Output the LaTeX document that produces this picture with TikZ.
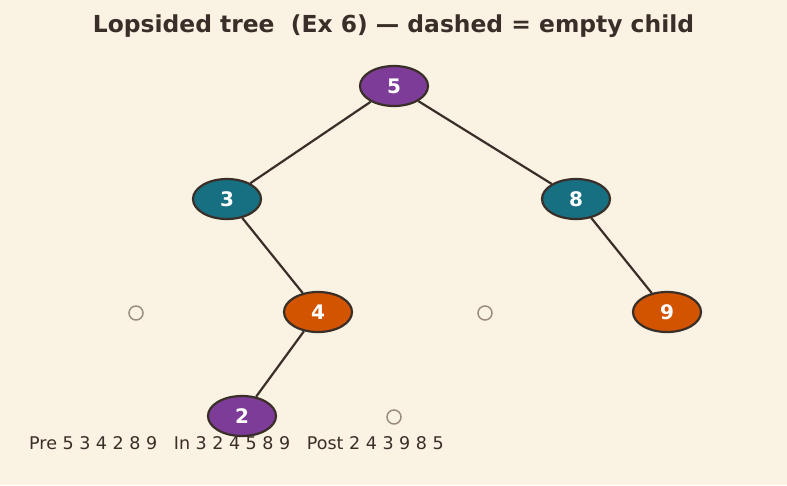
\documentclass[tikz,border=0pt]{standalone}
\usepackage{fontspec}
\setmainfont{DejaVu Sans}
\usetikzlibrary{shapes.geometric}
\definecolor{paper}{HTML}{FAF2E3}
\definecolor{ink}{HTML}{3A2F28}
\definecolor{plum}{HTML}{7D3C98}
\definecolor{teal}{HTML}{176F82}
\definecolor{rust}{HTML}{D35400}
\definecolor{hollow}{HTML}{9A8D7E}
\tikzset{
  key/.style = {ellipse, draw = ink, line width = 2.2pt, minimum width = 68pt, minimum height = 40pt,
                text = white, font = \fontsize{20}{20}\selectfont\bfseries, inner sep = 0pt},
  empty/.style = {circle, draw = hollow, line width = 1.5pt, minimum size = 14pt, inner sep = 0pt},
  link/.style = {ink, line width = 2.2pt}
}
\begin{document}
\begin{tikzpicture}[x = 1pt, y = -1pt]
    \fill[paper] (0,0) rectangle (787,485);
    \useasboundingbox (0,0) rectangle (787,485);

    \node[font = \fontsize{23.4}{24}\selectfont\bfseries, text = ink] (title) at (393.5,26) {Lopsided tree\ \ (Ex 6) --- dashed = empty child};

    \node[key, fill = plum] (5) at (394,86) {5};
    \node[key, fill = teal] (3) at (227,199) {3};
    \node[key, fill = teal] (8) at (576,199) {8};
    \node[key, fill = rust] (4) at (318,312) {4};
    \node[key, fill = rust] (9) at (667,312) {9};
    \node[key, fill = plum] (2) at (242,416) {2};

    \node[empty] (e1) at (136,313) {};
    \node[empty] (e2) at (485,313) {};
    \node[empty] (e3) at (394,417) {};

    \draw[link] (5) edge (3);
    \draw[link] (5) edge (8);
    \draw[link] (3) edge (4);
    \draw[link] (8) edge (9);
    \draw[link] (4) edge (2);

    \node[anchor = west, inner sep = 0pt, font = \fontsize{17.5}{18}\selectfont, text = ink] (orders) at (29,443)
      {Pre 5 3 4 2 8 9\ \ \ In 3 2 4 5 8 9\ \ \ Post 2 4 3 9 8 5};
\end{tikzpicture}
\end{document}
